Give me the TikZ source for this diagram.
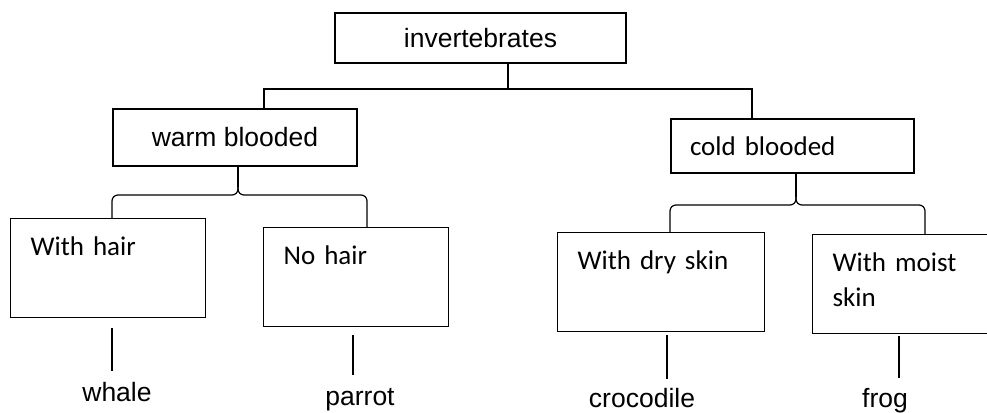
\documentclass[tikz,border=0pt]{standalone}
\usepackage{fontspec}
\setmainfont{Liberation Sans}
\newfontfamily\calibri{Carlito}

\begin{document}
\begin{tikzpicture}[
    x=1pt, y=-1pt,
    line width=1.2pt,
    every node/.style={font=\fontsize{26.5}{32}\selectfont},
    box/.style={draw, inner sep=0pt, minimum width=#1},
    sidebox/.style={draw, anchor=north west, align=left, text width=#1,
        inner xsep=20pt, inner ysep=0pt, text height=37pt, text depth=62pt,
        font=\calibri\fontsize{27}{35}\selectfont},
    leaf/.style={anchor=base},
    brace/.style={rounded corners=6pt}
]
\useasboundingbox (0,0) rectangle (987,412);

% upper level
\node[box=291, minimum height=50] (inv) at (480.5,38) {invertebrates};
\node[box=244, minimum height=57] (warm) at (235,137.5) {warm blooded};
\node[box=243, minimum height=54, text width=205, align=left, inner xsep=19pt,
    font=\calibri\fontsize{27}{35}\selectfont] (cold) at (792.5,146) {cold blooded};

% lower level
\node[sidebox=155] (hair) at (10,218) {With hair};
\node[sidebox=145] (nohair) at (263,227) {No hair};
\node[sidebox=167] (dry) at (557,232) {With dry skin};
\node[sidebox=138] (moist) at (812,234) {With moist\\skin};

% animals
\node[leaf] (whale) at (117,401) {whale};
\node[leaf] (parrot) at (360,405) {parrot};
\node[leaf] (croc) at (642,407) {crocodile};
\node[leaf] (frog) at (885,407) {frog};

% top split
\coordinate (top) at (508,89);
\coordinate (wj) at (264,89);
\coordinate (cj) at (752,89);
\draw (inv.south -| top) -- (top);
\draw (warm.north -| wj) -- (wj) -- (cj) -- (cold.north -| cj);

% braces
\coordinate (wl) at (112,195);
\coordinate (wr) at (367,195);
\coordinate (wm) at (238,195);
\coordinate (wa) at (238,187);
\draw[brace] (hair.north -| wl) -- (wl) -- (wm) -- (wa);
\draw[brace] (nohair.north -| wr) -- (wr) -- (wm) -- (wa);
\draw (warm.south -| wa) -- (wa);

\coordinate (cl) at (670,205);
\coordinate (cr) at (925,205);
\coordinate (cm) at (796,205);
\coordinate (ca) at (796,197);
\draw[brace] (dry.north -| cl) -- (cl) -- (cm) -- (ca);
\draw[brace] (moist.north -| cr) -- (cr) -- (cm) -- (ca);
\draw (cold.south -| ca) -- (ca);

% stubs down to the animals
\foreach \src/\lf/\x/\a/\b in {hair/whale/112/10/7, nohair/parrot/353/8/9,
    dry/croc/667/3/5, moist/frog/899/2/6}
    \draw[shorten <=\a pt, shorten >=\b pt] (\src.south -| \x,0) -- (\lf.north -| \x,0);
\end{tikzpicture}
\end{document}
